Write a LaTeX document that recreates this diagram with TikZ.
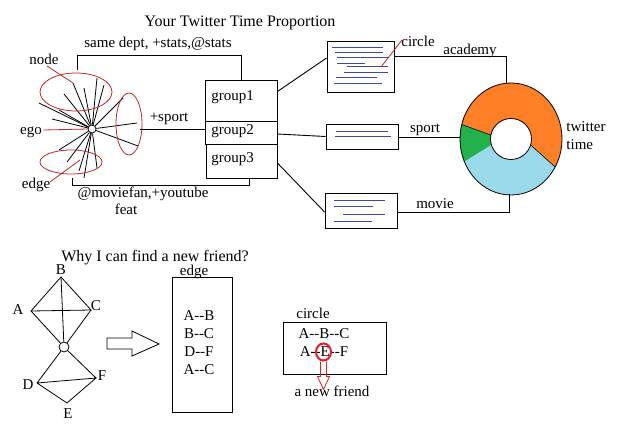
\documentclass[tikz,border=0pt]{standalone}
\usepackage{fontspec}
\setmainfont{Liberation Serif}
\usetikzlibrary{shapes.geometric}
\definecolor{sketchred}{RGB}{190,40,40}
\definecolor{brightred}{RGB}{230,30,36}
\definecolor{docblue}{RGB}{63,72,160}
\definecolor{dorange}{RGB}{255,127,39}
\definecolor{dgreen}{RGB}{34,177,76}
\definecolor{dblue}{RGB}{153,217,234}
\newcommand{\dd}{-{}-}
\begin{document}
\begin{tikzpicture}[x=1pt,y=-1pt,line width=0.9pt,
  txt/.style={inner sep=0pt,font=\fontsize{15}{17}\selectfont},
  ttl/.style={inner sep=0pt,font=\fontsize{16}{18}\selectfont},
  boxn/.style={draw,inner sep=0pt},
  redthin/.style={draw=sketchred,line width=0.8pt},
  docline/.style={draw=docblue,line width=1pt}]
\fill[white] (0,0) rectangle (620,427);
\useasboundingbox (0,0) rectangle (620,427);

% ---------- titles ----------
\node[ttl] (title) at (240,23) {Your Twitter Time Proportion};
\node[txt] (samedept) at (158,44) {same dept, +stats,@stats};

% ---------- ego network ----------
\node[draw,circle,minimum size=8pt,inner sep=0pt,line width=0.8pt] (ego) at (92,129) {};
\foreach \p in {(73,83),(84,88),(97,78),(104,85),(64,94),(39,103),(52,119),(59,110),
                (123,98),(137,123),(138,146),(59,150),(67,162),(79,171),(84,178),(97,168)}
  \draw[line width=0.8pt] (ego) -- \p;

\draw[redthin] (76,92) ellipse [x radius=36,y radius=19];
\draw[redthin] (129,124) ellipse [x radius=13,y radius=31];
\draw[redthin] (71,162) ellipse [x radius=31,y radius=12];

\node[txt] (nodelbl) at (44,59) {node};
\node[txt] (egolbl) at (31,132) {ego};
\node[txt] (edgelbl) at (36,185) {edge};
\coordinate (nodept) at (73,83);
\coordinate (egopt) at (88,129);
\coordinate (edgept) at (80,160);
\draw[redthin] (47,66) -- (nodept);
\draw[redthin] (egolbl.east) ++(1,-2) -- (egopt);
\draw[redthin] (50,182) -- (edgept);

\node[txt] (sportlbl) at (169,119) {+sport};
\node[txt] (movielbl) at (143,194) {@moviefan,+youtube};
\node[txt] (featlbl) at (126,209) {feat};

% ---------- groups ----------
\node[boxn,minimum width=72pt,minimum height=41pt] (g1) at (241,100.5) {};
\node[boxn,minimum width=72pt,minimum height=23pt] (g2) at (241,132.5) {};
\node[boxn,minimum width=71pt,minimum height=34pt] (g3) at (241.5,161) {};
\node[txt,anchor=west] (g1t) at (211,97) {group1};
\node[txt,anchor=west] (g2t) at (211,131) {group2};
\node[txt,anchor=west] (g3t) at (211,159) {group3};

\coordinate (topend) at (77,70);
\coordinate (sportend) at (140,129);
\coordinate (botend) at (72,178);
\draw (g1.north) |- (topend |- 0,55) -- (topend);
\draw (sportend) -- (sportend -| g2.west);
\draw ([xshift=7.5pt]g3.south) |- (botend |- 0,185) -- (botend);

% ---------- documents ----------
\node[boxn,minimum width=67pt,minimum height=51pt] (doc1) at (360.5,66.5) {};
\node[boxn,minimum width=72pt,minimum height=25pt] (doc2) at (362,136.5) {};
\node[boxn,minimum width=72pt,minimum height=35pt] (doc3) at (361,210.5) {};

\draw[docline] (332,48)--(383,48);
\draw[docline] (335,53)--(383,53);
\draw[docline] (337,58)--(388,58);
\draw[docline] (337,64)--(365,64);
\draw[docline] (347,67)--(388,67);
\draw[docline] (344,73)--(388,73);
\draw[docline] (336,78)--(377,78);
\draw[docline] (334,84)--(382,84);

\draw[docline] (336,132)--(388,132);
\draw[docline] (335,137)--(391,137);

\draw[docline] (334,201)--(385,201);
\draw[docline] (334,207)--(373,207);
\draw[docline] (343,215)--(385,215);
\draw[docline] (334,222)--(372,222);

\node[txt] (circlelbl) at (418,41) {circle};
\coordinate (circlept) at (381,67);
\draw[redthin] (402,40) -- (circlept);

\draw ([yshift=9pt]g1.east) -- ([yshift=8.5pt]doc1.west);
\draw ([yshift=-1.5pt]g2.east) -- (doc2.west);
\draw ([yshift=-2pt]g3.east) -- ([yshift=-1.5pt]doc3.west);

% ---------- donut ----------
\coordinate (dc) at (511,139);
\begin{scope}[shift={(dc)},x=1pt,y=1pt]
  \fill[dorange] (-30:51 and 56) arc[start angle=-30,end angle=165,x radius=51,y radius=56]
     -- (169:20.5) arc[start angle=169,end angle=-17,radius=20.5] -- cycle;
  \fill[dgreen] (165:51 and 56) arc[start angle=165,end angle=204,x radius=51,y radius=56]
     -- (197:20.5) arc[start angle=197,end angle=169,radius=20.5] -- cycle;
  \fill[dblue] (204:51 and 56) arc[start angle=204,end angle=330,x radius=51,y radius=56]
     -- (-17:20.5) arc[start angle=343,end angle=197,radius=20.5] -- cycle;
  \draw[line width=0.8pt] (0,0) ellipse [x radius=51,y radius=56];
  \draw[line width=0.8pt] (0,0) circle [radius=20.5];
  \draw[line width=0.6pt] (-30:51 and 56) -- (-17:20.5);
  \draw[line width=0.6pt] (165:51 and 56) -- (169:20.5);
\end{scope}
\coordinate (dtop) at (506,83.5);
\coordinate (dleft) at (460,137);
\coordinate (dbot) at (509,194);
\draw ([yshift=10.5pt]doc1.east) -| (dtop);
\draw (doc2.east |- dleft) -- (dleft);
\draw ([yshift=-1.5pt]doc3.east) -| (dbot);

\node[txt] (academylbl) at (470,51) {academy};
\node[txt] (sportlbl2) at (425,130) {sport};
\node[txt] (movielbl2) at (435,204) {movie};
\node[txt,anchor=west] (twitterlbl) at (566,127) {twitter};
\node[txt,anchor=west] (timelbl) at (566,145) {time};

% ---------- bottom: why ----------
\node[ttl] (why) at (155,257.5) {Why I can find a new friend?};

\coordinate (vB) at (61,277);
\coordinate (vA) at (31,311);
\coordinate (vC) at (91,310);
\node[draw,circle,minimum size=10pt,inner sep=0pt,line width=0.8pt] (vO) at (64,347) {};
\coordinate (vD) at (37,383);
\coordinate (vF) at (96,378);
\coordinate (vE) at (67,403);
\draw[line width=0.8pt] (vA)--(vB)--(vC)--(vA);
\draw[line width=0.8pt] (vB)--(vO) (vA)--(vO) (vC)--(vO);
\draw[line width=0.8pt] (vO)--(vD) (vO)--(vF) (vD)--(vF)--(vE)--(vD);
\node[txt] (lB) at (61,270) {B};
\node[txt] (lA) at (18,310) {A};
\node[txt] (lC) at (96,306) {C};
\node[txt] (lD) at (28,385) {D};
\node[txt] (lF) at (102,376) {F};
\node[txt] (lE) at (68,414) {E};

\draw[line width=0.8pt] (107,338)--(132,338)--(132,331)--(159,344)--(132,356)--(132,349)--(107,349)--cycle;

\node[txt] (edgelbl2) at (194,272) {edge};
\node[boxn,minimum width=60pt,minimum height=135pt] (edgebox) at (202,344.5) {};
\node[txt] (e1) at (199,316) {A\dd B};
\node[txt] (e2) at (199,334) {B\dd C};
\node[txt] (e3) at (199,352) {D\dd F};
\node[txt] (e4) at (199,370) {A\dd C};

\node[txt] (circlelbl2) at (313,313) {circle};
\node[boxn,minimum width=103pt,minimum height=52pt] (circlebox) at (334.5,348) {};
\node[txt] (c1) at (324,334) {A\dd B\dd C};
\node[txt] (c2) at (324,352) {A\dd E\dd F};
\node[draw=brightred,line width=2pt,ellipse,minimum width=15pt,minimum height=17pt,inner sep=0pt] (ecirc) at (323.5,352) {};
\draw[draw=brightred,line width=0.8pt] ([xshift=-3pt]ecirc.south) -- ++(0,15) -- ++(-3,0) -- ++(6,13) -- ++(6,-13) -- ++(-3,0) -- ++(0,-15);
\node[txt] (newfriend) at (332,391) {a new friend};
\end{tikzpicture}
\end{document}
